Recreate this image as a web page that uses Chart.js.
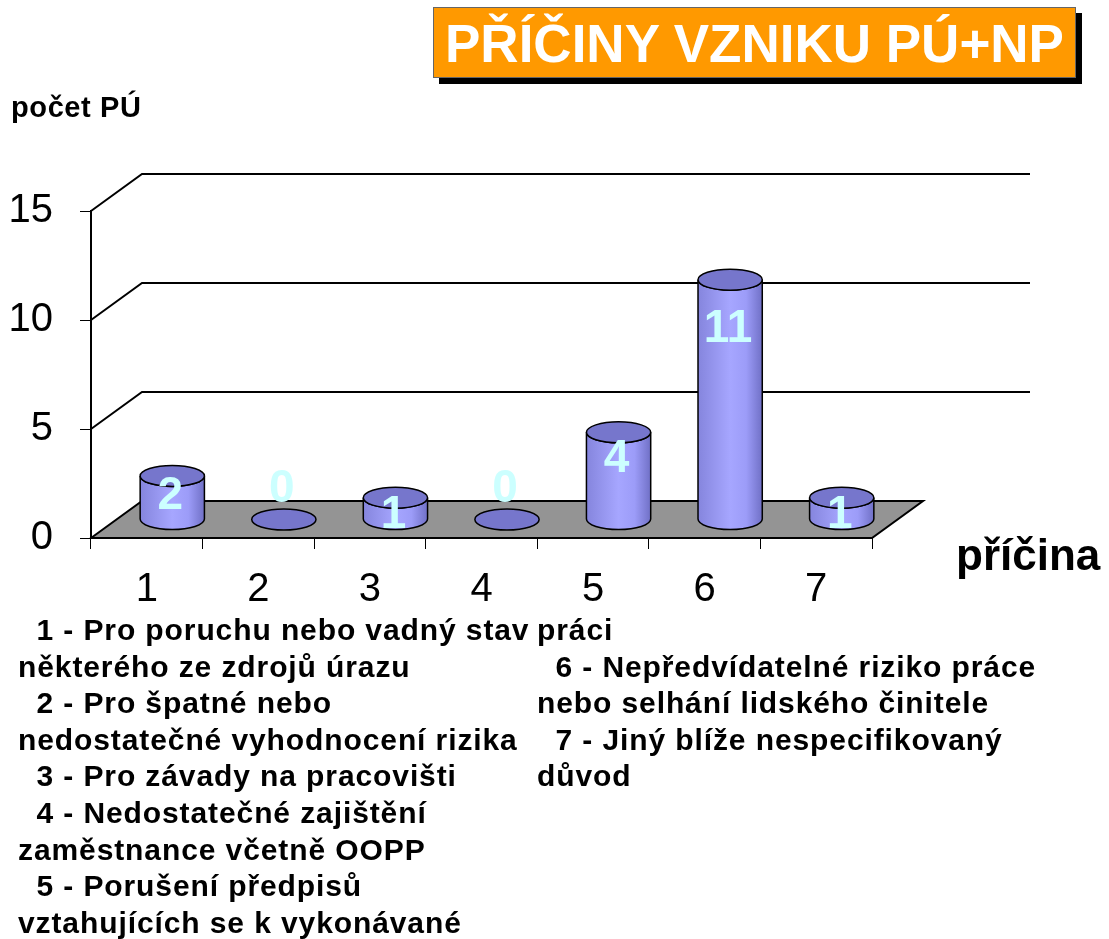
<!DOCTYPE html>
<html>
<head>
<meta charset="utf-8">
<script src="https://cdn.jsdelivr.net/npm/chart.js@4.4.0/dist/chart.umd.min.js"></script>
<style>
body { margin: 0; background: #fff; font-family: "Liberation Sans", Arial, sans-serif; }
#page { position: relative; width: 1109px; height: 939px; overflow: hidden; }
#chartBox { position: absolute; left: 0; top: 0; width: 1109px; height: 660px; }
#title {
  position: absolute; left: 433px; top: 7px; width: 643px; height: 71px;
  box-sizing: border-box; background: #ff9900; border: 1px solid #666;
  box-shadow: 6px 6px 0 #000; color: #fff; font-weight: bold; font-size: 53px;
  line-height: 71px; text-align: center; white-space: nowrap;
}
#yTitle { position: absolute; left: 11px; top: 91px; font-weight: bold; font-size: 29px; letter-spacing: 0.6px; }
#xTitle { position: absolute; left: 956px; top: 530px; font-weight: bold; font-size: 44px; }
.col { position: absolute; top: 612px; font-weight: bold; font-size: 30px; letter-spacing: 0.9px; line-height: 36.6px; white-space: pre; }
#left { left: 18px; }
#right { left: 537px; }
</style>
</head>
<body>
<div id="page">
  <div id="chartBox"><canvas id="chart"></canvas></div>
  <div id="title">PŘÍČINY VZNIKU PÚ+NP</div>
  <div id="yTitle">počet PÚ</div>
  <div id="xTitle">příčina</div>
  <div class="col" id="left"></div>
  <div class="col" id="right"></div>
</div>
<script>
// data
const categories = ["1", "2", "3", "4", "5", "6", "7"];
const counts = [2, 0, 1, 0, 4, 11, 1];
const yTicks = [0, 5, 10, 15];
const leftLines = [
  "  1 - Pro poruchu nebo vadný stav",
  "některého ze zdrojů úrazu",
  "  2 - Pro špatné nebo",
  "nedostatečné vyhodnocení rizika",
  "  3 - Pro závady na pracovišti",
  "  4 - Nedostatečné zajištění",
  "zaměstnance včetně OOPP",
  "  5 - Porušení předpisů",
  "vztahujících se k vykonávané"
];
const rightLines = [
  "práci",
  "  6 - Nepředvídatelné riziko práce",
  "nebo selhání lidského činitele",
  "  7 - Jiný blíže nespecifikovaný",
  "důvod"
];

document.getElementById("left").textContent = leftLines.join("\n");
document.getElementById("right").textContent = rightLines.join("\n");

// depth of the fake 3d box
const DX = 51, DY = -37;
const WALL_RIGHT = 1030;
const RY = 10.5;

function cylinder(ctx, cx, yTop, yBase, rx, ry) {
  ctx.lineWidth = 1.5;
  ctx.strokeStyle = "#000";
  if (yBase - yTop > 0.5) {
    let g = ctx.createLinearGradient(cx - rx, 0, cx + rx, 0);
    g.addColorStop(0, "#8585dd");
    g.addColorStop(0.5, "#a6a6ff");
    g.addColorStop(0.75, "#9c9cf8");
    g.addColorStop(1, "#7070c6");
    ctx.beginPath();
    ctx.moveTo(cx - rx, yTop);
    ctx.lineTo(cx - rx, yBase);
    ctx.ellipse(cx, yBase, rx, ry, 0, Math.PI, 0, true);
    ctx.lineTo(cx + rx, yTop);
    ctx.ellipse(cx, yTop, rx, ry, 0, 0, Math.PI, false);
    ctx.closePath();
    ctx.fillStyle = g;
    ctx.fill();
    ctx.stroke();
  }
  ctx.beginPath();
  ctx.ellipse(cx, yTop, rx, ry, 0, 0, Math.PI * 2);
  ctx.fillStyle = "#7676cc";
  ctx.fill();
  ctx.stroke();
}

const box3d = {
  id: "box3d",
  beforeDatasetsDraw(chart) {
    const ctx = chart.ctx;
    const a = chart.chartArea;
    const y = chart.scales.y;
    ctx.save();
    // floor
    ctx.beginPath();
    ctx.moveTo(a.left, a.bottom);
    ctx.lineTo(a.left + DX, a.bottom + DY);
    ctx.lineTo(a.right + DX, a.bottom + DY);
    ctx.lineTo(a.right, a.bottom);
    ctx.closePath();
    ctx.fillStyle = "#949494";
    ctx.fill();
    ctx.lineWidth = 2;
    ctx.strokeStyle = "#000";
    ctx.stroke();
    // grid lines on side and back wall
    ctx.lineWidth = 2;
    yTicks.forEach(v => {
      if (v === 0) return;
      const py = y.getPixelForValue(v);
      ctx.beginPath();
      ctx.moveTo(a.left, py);
      ctx.lineTo(a.left + DX, py + DY);
      ctx.lineTo(WALL_RIGHT, py + DY);
      ctx.stroke();
    });
    ctx.restore();
  },
  afterDatasetsDraw(chart) {
    const ctx = chart.ctx;
    const meta = chart.getDatasetMeta(0);
    ctx.save();
    const pts = [];
    meta.data.forEach((bar, i) => {
      const cx = bar.x + DX / 2;
      const base = bar.base + DY / 2;
      const top = bar.y + DY / 2;
      const rx = bar.width / 2;
      cylinder(ctx, cx, top, base, rx, RY);
      pts.push({ cx, top, base });
    });
    ctx.font = "bold 46px 'Liberation Sans', Arial, sans-serif";
    ctx.fillStyle = "#ccffff";
    ctx.textAlign = "center";
    ctx.textBaseline = "middle";
    pts.forEach((p, i) => {
      const h = p.base - p.top;
      const ly = counts[i] === 0 ? p.base - 30 : p.top + 14 + h * 0.15;
      ctx.fillText(String(counts[i]), p.cx - 2, ly);
    });
    ctx.restore();
  }
};

new Chart(document.getElementById("chart"), {
  type: "bar",
  data: {
    labels: categories,
    datasets: [{
      data: counts,
      backgroundColor: "rgba(0,0,0,0)",
      borderWidth: 0,
      barPercentage: 0.8,
      categoryPercentage: 0.72
    }]
  },
  options: {
    responsive: true,
    maintainAspectRatio: false,
    animation: false,
    events: [],
    layout: { padding: { top: 211, left: 1, right: 237, bottom: 52 } },
    plugins: { legend: { display: false }, tooltip: { enabled: false } },
    scales: {
      x: {
        afterFit(s) { s.height = 70; },
        grid: { drawOnChartArea: false, tickLength: 11, color: "#000", offset: true },
        border: { color: "#000", width: 2 },
        ticks: { color: "#000", padding: 17, font: { size: 40, family: "'Liberation Sans', Arial, sans-serif" } }
      },
      y: {
        min: 0, max: 15,
        afterFit(s) { s.width = 90; },
        grid: { drawOnChartArea: false, tickLength: 11, color: "#000" },
        border: { color: "#000", width: 2 },
        ticks: { stepSize: 5, color: "#000", padding: 27, font: { size: 40, family: "'Liberation Sans', Arial, sans-serif" } }
      }
    }
  },
  plugins: [box3d]
});
</script>
</body>
</html>
